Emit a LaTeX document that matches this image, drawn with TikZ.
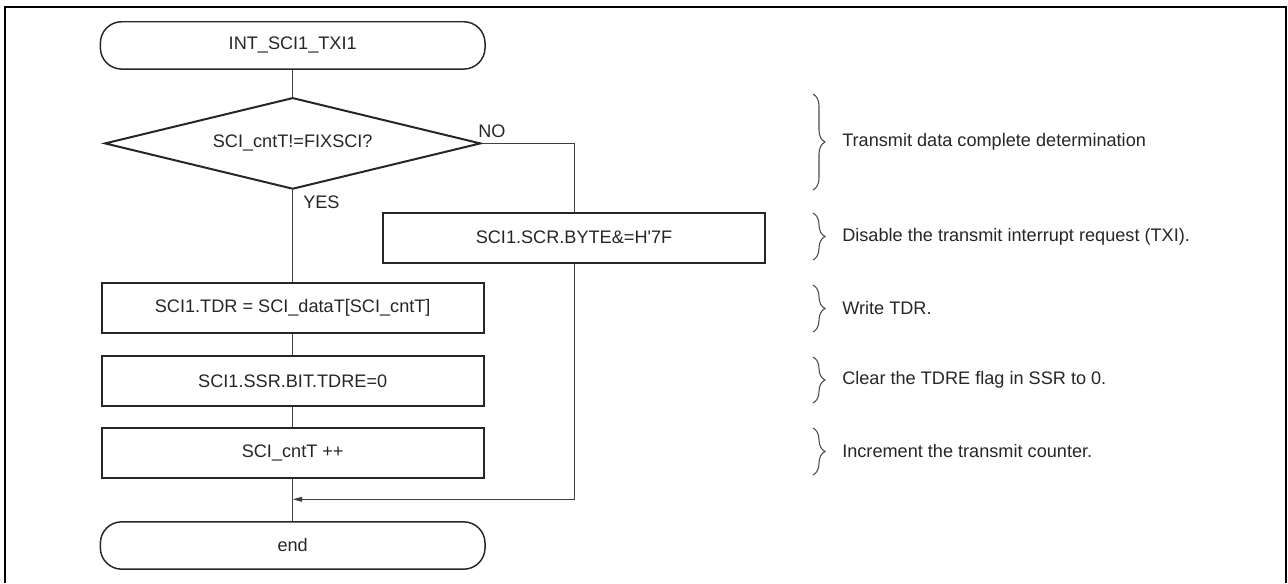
\documentclass[tikz,border=0pt]{standalone}
\usepackage{fontspec}
\setmainfont{Liberation Sans}
\usetikzlibrary{shapes.geometric,arrows.meta,decorations.pathreplacing}
\tikzset{
  procbox/.style={draw=black!85,line width=1.5pt,minimum width=286.5pt,minimum height=37.5pt,inner sep=0pt},
  termbox/.style={draw=black!85,line width=1.1pt,rounded corners=16pt,minimum width=288.5pt,minimum height=35.5pt,inner sep=0pt},
  testbox/.style={draw=black!85,line width=1.5pt,diamond,aspect=4.1,minimum width=282pt,minimum height=68.6pt,inner sep=0pt},
  flow/.style={draw=black!75,line width=0.75pt},
  notebrace/.style={draw=black!70,line width=0.8pt,decorate,decoration={brace,amplitude=9pt}},
}
\begin{document}
\begin{tikzpicture}[x=0.75pt,y=-0.75pt,font=\fontsize{13.6}{16}\selectfont,text=black!85]
  \useasboundingbox (0,0) rectangle (1288,583);
  \draw[line width=1.5pt] (5,583) -- (5,7) -- (1286,7) -- (1286,583);
  % flowchart
  \draw
    (292.7,45.4) node[termbox] (start){INT\_SCI1\_TXI1}
    (292.7,143.4) node[testbox] (test){SCI\_cntT!=FIXSCI?}
    (574,237.7) node[procbox] (scr){SCI1.SCR.BYTE\&=H\textquotesingle7F}
    (292.7,308.3) node[procbox] (tdr){SCI1.TDR = SCI\_dataT[SCI\_cntT]}
    (292.7,381) node[procbox] (ssr){SCI1.SSR.BIT.TDRE=0}
    (292.7,452.7) node[procbox] (cnt){SCI\_cntT ++}
    (292.7,545.5) node[termbox] (stop){end};
  \coordinate (join) at (292.7,499.3);
  \node[anchor=base west,inner sep=0pt] (no) at (478,137) {NO};
  \node[anchor=base west,inner sep=0pt] (yes) at (303,208) {YES};
  \begin{scope}[flow]
    \draw (start) -- (test);
    \draw (test.south) -- (tdr);
    \draw (test.east) -| (scr.north);
    \draw (tdr) -- (ssr);
    \draw (ssr) -- (cnt);
    \draw (cnt) -- (stop);
    \draw[-{Triangle[length=7pt,width=3.6pt]}] (scr.south) |- (join);
  \end{scope}
  % notes
  \foreach \ya/\yb/\note [count=\i] in {
      94/190/Transmit data complete determination,
      213/260/Disable the transmit interrupt request (TXI).,
      285/332/Write TDR.,
      357/403/Clear the TDRE flag in SSR to 0.,
      428/475/Increment the transmit counter.} {
    \draw[notebrace] (813,\ya) -- (813,\yb);
    \node[anchor=west,inner sep=0pt] (note\i) at (842,{(\ya+\yb)/2}) {\note};
  }
\end{tikzpicture}
\end{document}
